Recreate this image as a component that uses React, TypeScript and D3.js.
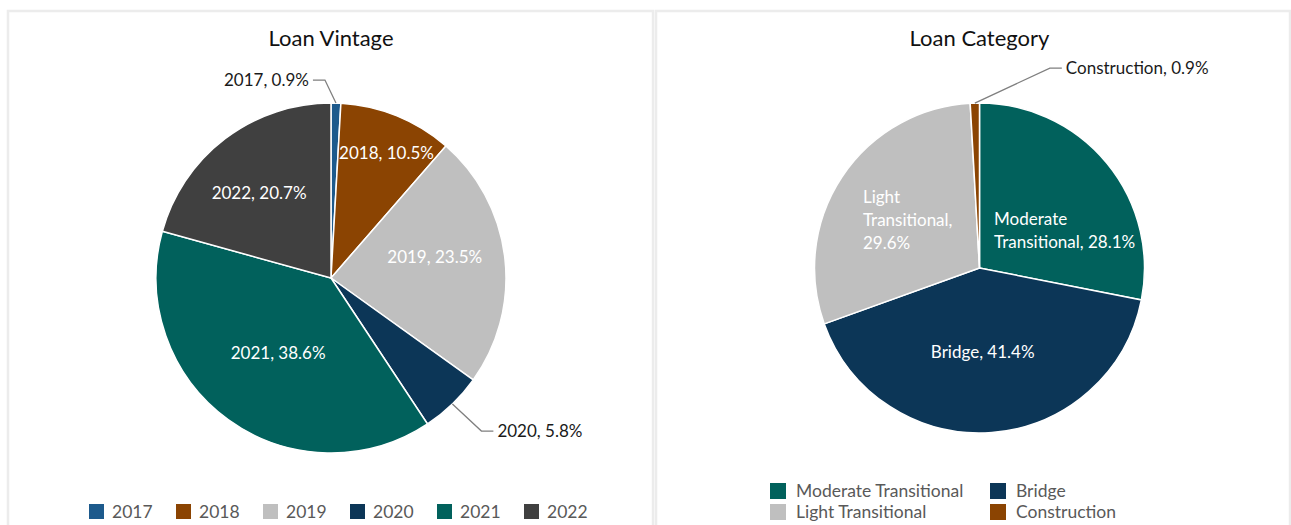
import React, { useEffect, useRef } from 'react';
import * as d3 from 'd3';

// chart data
const vintageNames = ['2017', '2018', '2019', '2020', '2021', '2022'];
const vintageShares = [0.9, 10.5, 23.5, 5.8, 38.6, 20.7];
const vintageColors = ['#1D5A8C', '#8B4402', '#BFBFBF', '#0C3657', '#01615C', '#404040'];

const categoryNames = ['Moderate Transitional', 'Bridge', 'Light Transitional', 'Construction'];
const categoryShares = [28.1, 41.4, 29.6, 0.9];
const categoryColors = ['#01615C', '#0C3657', '#BFBFBF', '#8B4402'];

const FONT = 'Lato, "Open Sans", sans-serif';

type LabelOpt = {
  outside?: boolean;
  nudge?: [number, number]; // inside labels: shift from centroid
  elbow?: [number, number]; // outside labels: elbow offset from slice edge
  wrap?: number; // max chars per line
};

// label layout tweaks (not data)
const vintageLabelOpts: LabelOpt[] = [
  { outside: true, elbow: [-11, -23] },
  { nudge: [12, -18] },
  { nudge: [-11, -8] },
  { outside: true, elbow: [29, 27] },
  { nudge: [15, -18] },
  { nudge: [-2, 7] },
];
const categoryLabelOpts: LabelOpt[] = [
  { nudge: [1, 32], wrap: 20 },
  { nudge: [-5, -25], wrap: 20 },
  { nudge: [19, 12], wrap: 13 },
  { outside: true, elbow: [75, -35] },
];

function wrapText(s: string, max: number) {
  const words = s.split(' ');
  const lines: string[] = [];
  let cur = '';
  words.forEach(w => {
    const next = cur ? cur + ' ' + w : w;
    if (next.length > max && cur) {
      lines.push(cur);
      cur = w;
    } else cur = next;
  });
  if (cur) lines.push(cur);
  return lines;
}

function drawPie(g: any, names: string[], values: number[], colors: string[], opts: LabelOpt[],
  cx: number, cy: number, r: number, title: string, titleY: number) {

  g.append('text')
    .attr('x', cx)
    .attr('y', titleY)
    .attr('text-anchor', 'middle')
    .style('font-family', FONT)
    .style('font-size', '22px')
    .attr('fill', '#111')
    .text(title);

  const pie = d3.pie<number>().sort(null).value(d => d);
  const arcs = pie(values);
  const arc = d3.arc<any>().innerRadius(0).outerRadius(r);
  const labelArc = d3.arc<any>().innerRadius(r * 0.66).outerRadius(r * 0.66);
  const edgeArc = d3.arc<any>().innerRadius(r).outerRadius(r);

  const pg = g.append('g').attr('transform', `translate(${cx},${cy})`);

  pg.selectAll('path')
    .data(arcs)
    .enter()
    .append('path')
    .attr('d', arc)
    .attr('fill', (d: any, i: number) => colors[i])
    .attr('stroke', '#fff')
    .attr('stroke-width', 1.5);

  arcs.forEach((a: any, i: number) => {
    const o = opts[i] || {};
    const label = `${names[i]}, ${values[i]}%`;
    if (o.outside) {
      const [ex, ey] = edgeArc.centroid(a);
      const [dx, dy] = o.elbow || [20, -20];
      const elbowX = ex + dx;
      const elbowY = ey + dy;
      const dir = dx < 0 ? -1 : 1;
      const endX = elbowX + dir * 12;
      pg.append('polyline')
        .attr('points', `${ex},${ey} ${elbowX},${elbowY} ${endX},${elbowY}`)
        .attr('fill', 'none')
        .attr('stroke', '#7f7f7f')
        .attr('stroke-width', 1.3);
      pg.append('text')
        .attr('x', endX + dir * 4)
        .attr('y', elbowY)
        .attr('dy', '0.35em')
        .attr('text-anchor', dir < 0 ? 'end' : 'start')
        .style('font-family', FONT)
        .style('font-size', '17px')
        .attr('fill', '#1a1a1a')
        .text(label);
    } else {
      const [lx, ly] = labelArc.centroid(a);
      const [nx, ny] = o.nudge || [0, 0];
      const lines = wrapText(label, o.wrap || 40);
      const lh = 23;
      const t = pg.append('text')
        .style('font-family', FONT)
        .style('font-size', '17px')
        .attr('fill', '#fff');
      lines.forEach((ln, k) => {
        t.append('tspan')
          .attr('x', 0)
          .attr('y', ly + ny + (k - (lines.length - 1) / 2) * lh)
          .attr('dy', '0.35em')
          .text(ln);
      });
      // left-align block, centered on the anchor
      const w = (t.node() as SVGTextElement).getBBox().width;
      t.selectAll('tspan').attr('x', lx + nx - w / 2);
    }
  });
}

function App() {
  const ref = useRef<SVGSVGElement>(null);

  useEffect(() => {
    const svg = d3.select(ref.current);
    svg.selectAll('*').remove();

    // panel frames
    svg.append('rect').attr('x', 8).attr('y', 11).attr('width', 645).attr('height', 540)
      .attr('fill', '#fff').attr('stroke', '#ececec').attr('stroke-width', 2.5);
    svg.append('rect').attr('x', 656).attr('y', 11).attr('width', 634).attr('height', 540)
      .attr('fill', '#fff').attr('stroke', '#ececec').attr('stroke-width', 2.5);

    drawPie(svg.append('g'), vintageNames, vintageShares, vintageColors, vintageLabelOpts,
      331, 278, 175, 'Loan Vintage', 46);
    drawPie(svg.append('g'), categoryNames, categoryShares, categoryColors, categoryLabelOpts,
      979.5, 268, 165, 'Loan Category', 46);

    // left legend: one row
    const leg1 = svg.append('g');
    vintageNames.forEach((n, i) => {
      const x = 89 + i * 87;
      leg1.append('rect').attr('x', x).attr('y', 504).attr('width', 15).attr('height', 15)
        .attr('fill', vintageColors[i]);
      leg1.append('text').attr('x', x + 23).attr('y', 512).attr('dy', '0.35em')
        .style('font-family', FONT).style('font-size', '17.5px').attr('fill', '#595959').text(n);
    });

    // right legend: two columns
    const leg2 = svg.append('g');
    const colX = [770, 990];
    categoryNames.forEach((n, k) => {
      const x = colX[k % 2];
      const y = k < 2 ? 491 : 512;
      leg2.append('rect').attr('x', x).attr('y', y - 8).attr('width', 16).attr('height', 16)
        .attr('fill', categoryColors[k]);
      leg2.append('text').attr('x', x + 26).attr('y', y).attr('dy', '0.35em')
        .style('font-family', FONT).style('font-size', '17.5px').attr('fill', '#595959')
        .text(n);
    });
  }, []);

  return (
    <svg ref={ref} width={1291} height={525}
      style={{ position: 'absolute', left: 0, top: 0, background: '#fff' }} />
  );
}

export default App;
